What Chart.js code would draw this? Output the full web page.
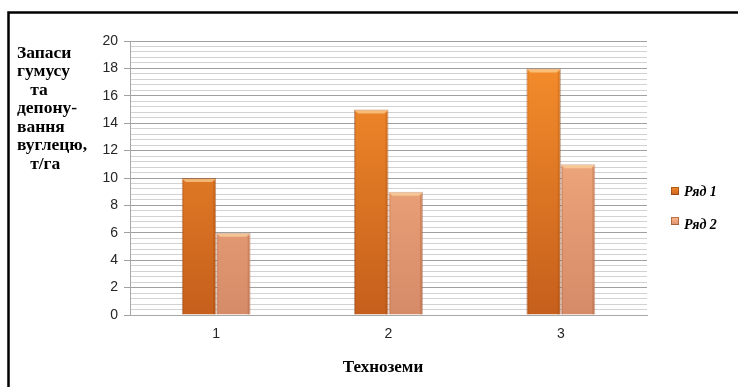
<!DOCTYPE html>
<html>
<head>
<meta charset="utf-8">
<script src="https://cdn.jsdelivr.net/npm/chart.js@4.4.1/dist/chart.umd.min.js"></script>
<style>
  html, body { margin: 0; padding: 0; background: #fff; }
  #wrap { width: 738px; height: 387px; position: relative; }
</style>
</head>
<body>
<div id="wrap"><canvas id="c" width="738" height="387"></canvas></div>
<script>
// Технозем categories and the two series
const categories = ['1', '2', '3'];
const series1 = [10, 15, 18];
const series2 = [6, 9, 11];
const seriesNames = ['Ряд 1', 'Ряд 2'];
const yMin = 0, yMax = 20, yMajor = 2, yMinor = 0.4;
const yTitleLines = ['Запаси', 'гумусу', '   та', 'депону-', 'вання', 'вуглецю,', '   т/га'];
const xTitle = 'Техноземи';

const isMajor = v => Math.abs(v / yMajor - Math.round(v / yMajor)) < 1e-6;

function barGradient(top, bottom) {
  return ctx => {
    const chart = ctx.chart;
    const area = chart.chartArea;
    if (!area) return top;
    const g = chart.ctx.createLinearGradient(0, area.top, 0, area.bottom);
    g.addColorStop(0, top);
    g.addColorStop(1, bottom);
    return g;
  };
}

// frame, axis titles, bevel highlights and legend
const decor = {
  id: 'decor',
  beforeDraw(chart) {
    const c = chart.ctx;
    c.save();
    c.fillStyle = '#fff';
    c.fillRect(0, 0, chart.width, chart.height);
    c.restore();
  },
  afterDatasetsDraw(chart) {
    const c = chart.ctx;
    c.save();
    chart.data.datasets.forEach((ds, i) => {
      const meta = chart.getDatasetMeta(i);
      meta.data.forEach(bar => {
        const w = bar.width;
        const x0 = bar.x - w / 2;
        const y0 = bar.y;
        // light bevel on top edge
        c.fillStyle = 'rgba(255,225,170,0.6)';
        c.beginPath();
        c.moveTo(x0 + 1, y0 + 1);
        c.lineTo(x0 + w - 1, y0 + 1);
        c.lineTo(x0 + w - 4, y0 + 4);
        c.lineTo(x0 + 4, y0 + 4);
        c.closePath();
        c.fill();
        // darker side edges
        c.fillStyle = 'rgba(120,50,10,0.18)';
        c.fillRect(x0 + w - 3, y0 + 3, 2, bar.base - y0 - 3);
        c.fillRect(x0 + 1, y0 + 3, 1, bar.base - y0 - 3);
      });
    });
    c.restore();
  },
  afterDraw(chart) {
    const c = chart.ctx;
    c.save();
    // frame
    c.strokeStyle = '#000';
    c.lineWidth = 2.5;
    c.beginPath();
    c.moveTo(8.5, chart.height);
    c.lineTo(8.5, 12.5);
    c.lineTo(chart.width, 12.5);
    c.stroke();

    // y title
    c.fillStyle = '#000';
    c.font = 'bold 17.5px "Liberation Serif", "Times New Roman", serif';
    c.textBaseline = 'middle';
    c.textAlign = 'left';
    yTitleLines.forEach((t, i) => {
      c.fillText(t, 17, 53 + i * 18.5);
    });

    // x title
    c.textAlign = 'center';
    c.font = 'bold 17px "Liberation Serif", "Times New Roman", serif';
    c.fillText(xTitle, 383, 368);

    // legend
    c.font = 'bold italic 14px "Liberation Serif", "Times New Roman", serif';
    c.textAlign = 'left';
    const tops = ['#F58A2A', '#FFB88A'];
    const bots = ['#C8621F', '#DC9070'];
    const ys = [191, 221];
    seriesNames.forEach((n, i) => {
      const y = ys[i];
      const g = c.createLinearGradient(0, y - 4, 0, y + 4);
      g.addColorStop(0, tops[i]);
      g.addColorStop(1, bots[i]);
      c.fillStyle = g;
      c.fillRect(671, y - 4, 8, 8);
      c.strokeStyle = 'rgba(110,50,10,0.5)';
      c.lineWidth = 1;
      c.strokeRect(671.5, y - 3.5, 7, 7);
      c.fillStyle = '#000';
      c.fillText(n, 684, y + (i === 1 ? 4 : 1));
    });
    c.restore();
  }
};

new Chart(document.getElementById('c'), {
  type: 'bar',
  data: {
    labels: categories,
    datasets: [
      {
        label: seriesNames[0],
        data: series1,
        backgroundColor: barGradient('#F8902C', '#C55F1C'),
        borderColor: 'rgba(150,70,20,0.55)',
        borderWidth: 1,
        categoryPercentage: 0.4,
        barPercentage: 1.0
      },
      {
        label: seriesNames[1],
        data: series2,
        backgroundColor: barGradient('#FFB888', '#D58B68'),
        borderColor: 'rgba(170,100,70,0.5)',
        borderWidth: 1,
        categoryPercentage: 0.4,
        barPercentage: 1.0
      }
    ]
  },
  options: {
    responsive: false,
    animation: false,
    devicePixelRatio: 1,
    layout: { padding: { left: 0, right: 91, top: 41, bottom: 0 } },
    plugins: {
      legend: { display: false },
      tooltip: { enabled: false },
      title: { display: false }
    },
    scales: {
      x: {
        grid: { display: false, drawTicks: false },
        border: { display: true, color: '#a8a8a8', width: 1 },
        ticks: {
          color: '#262626',
          font: { family: '"Liberation Sans", Arial, sans-serif', size: 14 },
          padding: 11
        },
        afterFit(scale) { scale.height = 72; }
      },
      y: {
        min: yMin,
        max: yMax,
        afterBuildTicks(scale) {
          const t = [];
          const n = Math.round((yMax - yMin) / yMinor);
          for (let i = 0; i <= n; i++) t.push({ value: +(yMin + i * yMinor).toFixed(4) });
          scale.ticks = t;
        },
        grid: {
          color: ctx => (ctx.tick && isMajor(ctx.tick.value)) ? '#a0a0a0' : '#d2d2d2',
          lineWidth: 1,
          tickLength: 6,
          tickColor: ctx => (ctx.tick && isMajor(ctx.tick.value)) ? '#a0a0a0' : 'rgba(0,0,0,0)'
        },
        border: { display: true, color: '#a8a8a8', width: 1 },
        ticks: {
          autoSkip: false,
          color: '#262626',
          padding: 6,
          font: { family: '"Liberation Sans", Arial, sans-serif', size: 14 },
          callback: v => isMajor(v) ? String(Math.round(v)) : ''
        },
        afterFit(scale) { scale.width = 130; }
      }
    }
  },
  plugins: [decor]
});
</script>
</body>
</html>
